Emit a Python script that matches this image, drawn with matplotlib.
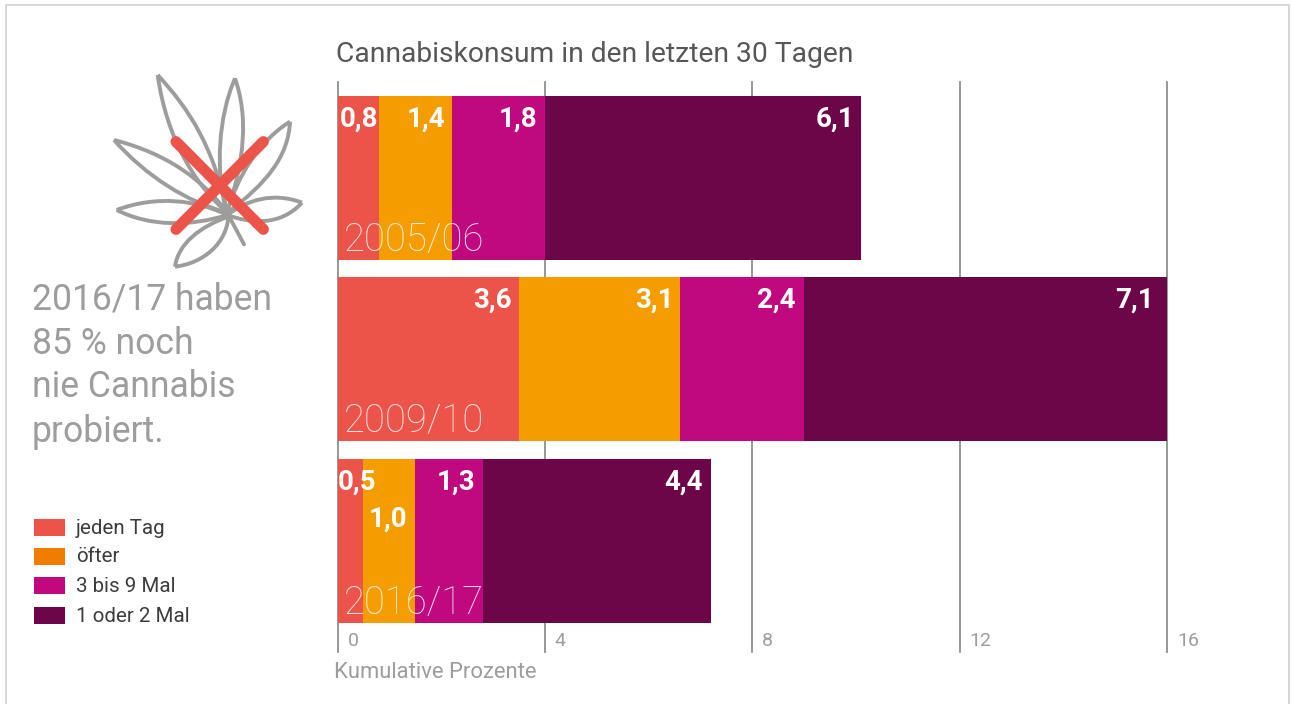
import matplotlib
matplotlib.use("Agg")
import matplotlib.pyplot as plt
from matplotlib.patches import PathPatch, Rectangle
from matplotlib.path import Path

plt.rcParams["font.family"] = ["Roboto", "DejaVu Sans"]

years = ["2005/06", "2009/10", "2016/17"]
series = ["jeden Tag", "öfter", "3 bis 9 Mal", "1 oder 2 Mal"]
daily = [0.8, 3.5, 0.5]
often = [1.4, 3.1, 1.0]
three_to_nine = [1.8, 2.4, 1.3]
once_twice = [6.1, 7.0, 4.4]
value_labels = [
    ["0,8", "3,6", "0,5"],
    ["1,4", "3,1", "1,0"],
    ["1,8", "2,4", "1,3"],
    ["6,1", "7,1", "4,4"],
]
ticks = [0, 4, 8, 12, 16]
side_text = ["2016/17 haben", "85 % noch", "nie Cannabis", "probiert."]

RED = "#ec5349"
ORANGE = "#f59d00"
MAGENTA = "#c0087f"
PURPLE = "#6d0549"
GREY = "#9d9d9c"
DARK = "#3c3c3b"
W, H = 1293, 704


def px_rect(x0, y0, x1, y1):
    return [x0 / W, 1 - y1 / H, (x1 - x0) / W, (y1 - y0) / H]


fig = plt.figure(figsize=(W / 100, H / 100), dpi=100, facecolor="white")

# main bars
ax = fig.add_axes(px_rect(337.5, 82, 1167, 652))
ax.set_xlim(0, 16)
ax.set_ylim(2.612, -0.529)
ax.axis("off")
for t in ticks:
    ax.axvline(t, color="#8f8f8e", lw=1.3, zorder=1, clip_on=False)

left = [0.0, 0.0, 0.0]
colors = [RED, ORANGE, MAGENTA, PURPLE]
# px from segment end to label end, per segment and row
label_dx = [[-1, -7, 13], [-6, -6, -8], [-7, -9, -7], [-7, -13, -8]]
label_dy = [[59, 59, 59], [59, 59, 22], [59, 59, 59], [59, 59, 59]]
for i, vals in enumerate([daily, often, three_to_nine, once_twice]):
    ax.barh(range(3), vals, left=left, height=0.9036, color=colors[i], zorder=2, label=series[i])
    for r in range(3):
        end = left[r] + vals[r]
        ax.annotate(value_labels[i][r], (end, r), xytext=(label_dx[i][r], label_dy[i][r]),
                    textcoords="offset pixels", ha="right", va="center", color="white",
                    fontsize=20, fontweight="bold", zorder=4)
        left[r] = end

for r, year in enumerate(years):
    ax.annotate(year, (0, r), xytext=(6, -62), textcoords="offset pixels", ha="left", va="center",
                color="white", alpha=0.85, fontsize=27.5, fontweight="light", zorder=4)

for t in ticks:
    ax.annotate(str(t), (t, 2.612), xytext=(10, 11), textcoords="offset pixels", ha="left", va="center",
                color=GREY, fontsize=14, annotation_clip=False)

# everything outside the plot is placed in pixels
ov = fig.add_axes([0, 0, 1, 1], zorder=5)
ov.set_xlim(0, W)
ov.set_ylim(H, 0)
ov.axis("off")
ov.patch.set_alpha(0)

ov.plot([6, 6, 1289, 1289], [704, 5, 5, 704], color="#d0d0cf", lw=1.2)
ov.text(336, 54, "Cannabiskonsum in den letzten 30 Tagen", color="#575756", fontsize=20.3, va="center")
ov.text(334, 673, "Kumulative Prozente", color=GREY, fontsize=15.8, va="center")

for y, line in zip([300, 344, 387, 432], side_text):
    ov.text(32, y, line, color=GREY, fontsize=25.6, va="center")

legend_colors = [RED, "#f07d00", MAGENTA, PURPLE]
for y, name, c in zip([527, 556, 585, 615], series, legend_colors):
    ov.add_patch(Rectangle((34, y - 8.5), 31, 17, color=c, lw=0))
    ov.text(76, y + 1, name, color=DARK, fontsize=14.8, va="center")

# leaf icon, control points
leaves = [
    [(203, 45), (300, 150), (370, 260), (412, 458), (320, 380), (230, 240)],
    [(435, 55), (475, 170), (465, 300), (410, 458), (375, 330), (385, 170)],
    [(600, 185), (595, 290), (530, 370), (412, 458), (440, 350), (510, 240)],
    [(72, 240), (230, 280), (340, 360), (412, 458), (290, 425), (170, 350)],
    [(80, 450), (200, 405), (320, 420), (412, 465), (300, 500), (180, 500)],
    [(636, 428), (550, 395), (470, 420), (412, 465), (480, 490), (570, 500)],
    [(255, 620), (265, 550), (330, 500), (415, 470), (410, 550), (340, 610)],
]
for leaf in leaves:
    tip = leaf[0]
    ctrl = leaf[1:]
    verts = [tip] + ctrl + [tip]
    verts = [(90 + a / 3, 60 + b / 3) for a, b in verts]
    codes = [Path.MOVETO] + [Path.CURVE4] * 6
    ov.add_patch(PathPatch(Path(verts, codes), fc="none", ec=GREY, lw=2.8, joinstyle="round"))
ov.plot([90 + 415 / 3, 90 + 462 / 3], [60 + 465 / 3, 60 + 553 / 3], color=GREY, lw=2.8, solid_capstyle="round")
for (a, b), (c, d) in [((258, 245), (520, 508)), ((520, 245), (258, 508))]:
    ov.plot([90 + a / 3, 90 + c / 3], [60 + b / 3, 60 + d / 3], color=RED, lw=8, solid_capstyle="round")

fig.savefig("out.png", dpi=100)
